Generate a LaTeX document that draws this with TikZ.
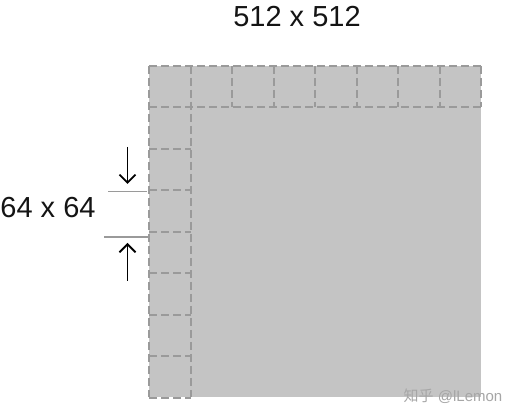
\documentclass[tikz,border=0pt]{standalone}
\usepackage{fontspec}
\setmainfont{Liberation Sans}
\newfontfamily\cjk{Noto Sans CJK SC}
\usetikzlibrary{arrows.meta}
\definecolor{tileFill}{HTML}{C4C4C4}
\definecolor{tileLine}{HTML}{9A9A9A}
\tikzstyle{gridLine} = [draw=tileLine, line width=2pt, dash pattern=on 8pt off 4pt]
\tikzstyle{sizeLabel} = [font=\fontsize{29}{29}\selectfont, text=black!92, inner sep=0pt]
\tikzstyle{marker} = [draw=tileLine, line width=1.5pt]
\tikzstyle{arrow} = [line width=1.8pt, -{Straight Barb[length=8pt,width=16pt,line width=1.8pt]}]

\begin{document}
\begin{tikzpicture}[x=1pt, y=-1pt]
                        \useasboundingbox (0,0) rectangle (520,419);
                        \fill[tileFill] (149,66) rectangle (481,397);
                        % top row of tiles
                        \draw[gridLine] (149,66) -- (481,66);
                        \draw[gridLine] (149,107.5) -- (481,107.5);
                        \foreach \i in {0,...,8}
                            \draw[gridLine] (149+41.5*\i,66) -- (149+41.5*\i,107.5);
                        % left column of tiles
                        \draw[gridLine] (149,66) -- (149,397);
                        \draw[gridLine] (190.5,66) -- (190.5,397);
                        \foreach \j in {2,...,8}
                            \draw[gridLine] (149,66+41.5*\j) -- (190.5,66+41.5*\j);
                        \node (big) [sizeLabel] at (297,17) {512 x 512};
                        \node (small) [sizeLabel] at (48,208) {64 x 64};
                        \coordinate (topL) at (108,191.5);
                        \coordinate (topR) at (147,191.5);
                        \coordinate (botL) at (104,237);
                        \coordinate (botR) at (150,237);
                        \coordinate (downS) at (127.5,147);
                        \coordinate (downE) at (127.5,184);
                        \coordinate (upS) at (127.5,281);
                        \coordinate (upE) at (127.5,243);
                        \draw (topL) [marker] -- (topR);
                        \draw (botL) [marker] -- (botR);
                        \draw (downS) [arrow] -- (downE);
                        \draw (upS) [arrow] -- (upE);
                        \node (mark) [text=white!65!black, font=\fontsize{15}{15}\selectfont, inner sep=0pt] at (453,396) {{\cjk 知乎} @lLemon};
                    \end{tikzpicture}
\end{document}
